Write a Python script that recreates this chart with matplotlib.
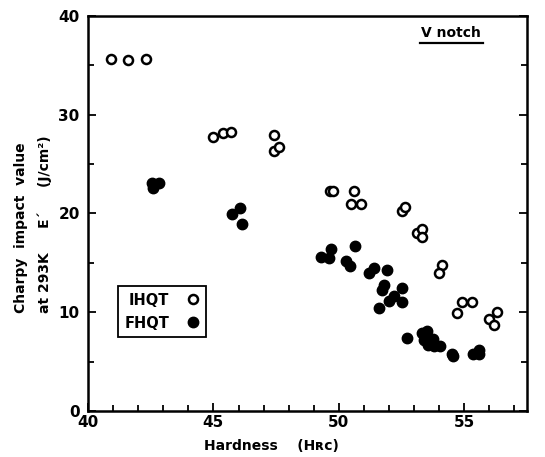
import matplotlib.pyplot as plt
import numpy as np

# IHQT (open circles)
ihqt_hrc = [40.9, 41.6, 42.3, 45.0, 45.4, 45.7, 47.4, 47.4, 47.6,
            49.65, 49.75, 50.6, 50.5, 50.9, 52.5, 52.65, 53.1, 53.3, 53.3,
            54.1, 54.0, 54.9, 55.3, 54.7, 56.0, 56.3, 56.2]
ihqt_e = [35.6, 35.5, 35.6, 27.7, 28.2, 28.3, 27.9, 26.3, 26.7,
          22.3, 22.3, 22.3, 21.0, 21.0, 20.3, 20.7, 18.0, 18.4, 17.6,
          14.8, 14.0, 11.0, 11.0, 9.9, 9.3, 10.0, 8.7]

# FHQT (filled circles)
fhqt_hrc = [42.55, 42.85, 42.6, 45.75, 46.05, 46.15,
            49.3, 49.6, 49.7, 50.65, 50.3, 50.45, 51.2, 51.4, 51.9,
            51.7, 51.8, 52.5, 51.6, 52.0, 52.2, 52.5,
            52.7, 53.3, 53.5, 53.4, 53.55, 53.75, 53.8, 54.05,
            54.5, 54.55, 55.35, 55.6, 55.6]
fhqt_e = [23.1, 23.1, 22.6, 19.9, 20.6, 18.9,
          15.6, 15.5, 16.4, 16.7, 15.2, 14.7, 14.0, 14.5, 14.3,
          12.3, 12.8, 12.5, 10.4, 11.1, 11.6, 11.0,
          7.4, 7.9, 8.1, 7.2, 6.7, 7.3, 6.6, 6.6,
          5.8, 5.6, 5.8, 6.2, 5.8]

fig = plt.figure(figsize=(5.45, 4.57), dpi=100)
ax = fig.add_axes([88 / 545, 46 / 457, 439 / 545, 395 / 457])

ax.plot(ihqt_hrc, ihqt_e, 'o', ms=6.5, mfc='white', mec='black', mew=1.8,
        label='IHQT', ls='none')
ax.plot(fhqt_hrc, fhqt_e, 'o', ms=7.5, mfc='black', mec='black',
        label='FHQT', ls='none')

ax.set_xlim(40, 57.5)
ax.set_ylim(0, 40)
ax.set_xticks([40, 45, 50, 55])
ax.set_xticks(np.arange(41, 58, 1), minor=True)
ax.set_yticks([0, 10, 20, 30, 40])
ax.set_yticks([5, 15, 25, 35], minor=True)
ax.tick_params(which='both', direction='in', width=1.3, labelsize=11)
ax.tick_params(which='major', length=6)
ax.tick_params(which='minor', length=4)
ax.tick_params(axis='y', which='both', right=True, direction='in', pad=6)
ax.tick_params(axis='x', pad=3)
for s in ax.spines.values():
    s.set_linewidth(1.8)
for lab in ax.get_xticklabels() + ax.get_yticklabels():
    lab.set_fontweight('bold')

ax.set_xlabel('Hardness    (H\u0280\u1d04)', fontsize=10, fontweight='bold')
ax.xaxis.set_label_coords(0.417, -0.072)

# y label as two rotated lines, both starting level with the "10" label
fig.text(21 / 545, 1 - 313 / 457, 'Charpy  impact  value', rotation=90,
         ha='center', va='bottom', fontsize=10, fontweight='bold')
fig.text(45 / 545, 1 - 313 / 457, 'at 293K     E\u00b4     (J/cm\u00b2)',
         rotation=90, ha='center', va='bottom', fontsize=10,
         fontweight='bold')

leg = ax.legend(loc='lower left', bbox_to_anchor=(0.068, 0.187),
                borderaxespad=0, markerfirst=False, fancybox=False,
                edgecolor='black', framealpha=1,
                prop={'size': 10.5, 'weight': 'bold'},
                handletextpad=1.1, borderpad=0.45, labelspacing=0.55,
                handlelength=1.0)
leg.get_frame().set_linewidth(1.3)

ax.text(0.827, 0.957, 'V notch', transform=ax.transAxes, ha='center',
        va='center', fontsize=10, fontweight='bold')
ax.plot([0.756, 0.9], [0.932, 0.932], color='black', lw=1.6,
        transform=ax.transAxes, clip_on=False)

fig.savefig('out.png', dpi=100)
